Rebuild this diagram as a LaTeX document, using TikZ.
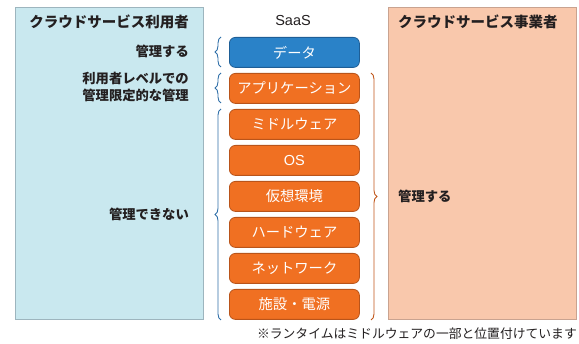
\documentclass[tikz,border=0pt]{standalone}
\usepackage{fontspec}
\setmainfont{Liberation Sans}
\newfontfamily\jp{Noto Sans CJK JP}
\usetikzlibrary{decorations.pathreplacing}
\definecolor{userfill}{HTML}{C9E8EF}
\definecolor{userline}{HTML}{9DB5BE}
\definecolor{provfill}{HTML}{F9C8AC}
\definecolor{provline}{HTML}{C9A390}
\definecolor{layerfill}{HTML}{F07022}
\definecolor{layerline}{HTML}{B9541A}
\definecolor{datafill}{HTML}{2A82C8}
\definecolor{dataline}{HTML}{1E5E96}
\definecolor{bluebrace}{HTML}{2F6FA8}
\definecolor{orangebrace}{HTML}{C0561A}
\definecolor{txt}{HTML}{231F20}
\tikzset{
  panel/.style={draw=#1, line width=1pt, inner sep=0pt, outer sep=0pt},
  layer/.style={rounded corners=6pt, draw=layerline, fill=layerfill, line width=0.8pt,
    minimum width=130pt, minimum height=30pt, inner sep=0pt,
    text=white, font=\jp\fontsize{14.3}{16}\selectfont},
  lbl/.style={font=\jp\bfseries\fontsize{13.3}{17}\selectfont, text=txt, inner sep=0pt},
  ttl/.style={font=\jp\bfseries\fontsize{14.5}{16}\selectfont, text=txt, inner sep=0pt},
  bbrace/.style={draw=bluebrace, line width=0.9pt, decorate, decoration={brace, amplitude=#1}},
  obrace/.style={draw=orangebrace, line width=0.9pt, decorate, decoration={brace, amplitude=#1}},
}
\begin{document}
\begin{tikzpicture}[x=1pt,y=-1pt]
\useasboundingbox (0,0) rectangle (579,344);
% side panels
\node[panel=userline, fill=userfill, minimum width=188pt, minimum height=312pt, anchor=north west] (user) at (15,8) {};
\node[panel=provline, fill=provfill, minimum width=188pt, minimum height=312pt, anchor=north west] (prov) at (388,8) {};
\node[ttl, anchor=east] (usertitle) at (189,22) {クラウドサービス利用者};
\node[ttl, anchor=west] (provtitle) at (398,22) {クラウドサービス事業者};
% SaaS stack
\node[font=\fontsize{14.5}{16}\selectfont, text=txt] (saas) at (293,21) {SaaS};
\node[layer, draw=dataline, fill=datafill, anchor=north west] (data) at (229,37) {データ};
\node[layer, anchor=north west] (app) at (229,73) {アプリケーション};
\node[layer, anchor=north west] (mid) at (229,109) {ミドルウェア};
\node[layer, anchor=north west, font=\fontsize{14.5}{16}\selectfont] (os) at (229,145) {OS};
\node[layer, anchor=north west] (virt) at (229,181) {仮想環境};
\node[layer, anchor=north west] (hw) at (229,217) {ハードウェア};
\node[layer, anchor=north west] (net) at (229,253) {ネットワーク};
\node[layer, anchor=north west] (fac) at (229,289) {施設・電源};
% user-side braces
\coordinate (b1t) at (221,37); \coordinate (b1b) at (221,67);
\coordinate (b2t) at (221,73); \coordinate (b2b) at (221,103);
\coordinate (b3t) at (221,109); \coordinate (b3b) at (221,320);
\draw[bbrace=6pt] (b1b) -- (b1t);
\draw[bbrace=6pt] (b2b) -- (b2t);
\draw[bbrace=6pt] (b3b) -- (b3t);
% provider-side brace
\coordinate (p1t) at (371,73); \coordinate (p1b) at (371,320);
\draw[obrace=6pt] (p1t) -- (p1b);
% labels
\node[lbl, anchor=east] (own) at (189,51) {管理する};
\node[lbl, anchor=east, align=right] (limited) at (189,87) {利用者レベルでの\\管理限定的な管理};
\node[lbl, anchor=east] (none) at (189,214) {管理できない};
\node[lbl, anchor=west] (provown) at (398,196) {管理する};
\node[font=\jp\fontsize{12.8}{14}\selectfont, text=txt, anchor=east, inner sep=0pt] (note) at (577,334) {※ランタイムはミドルウェアの一部と位置付けています};
\end{tikzpicture}
\end{document}
